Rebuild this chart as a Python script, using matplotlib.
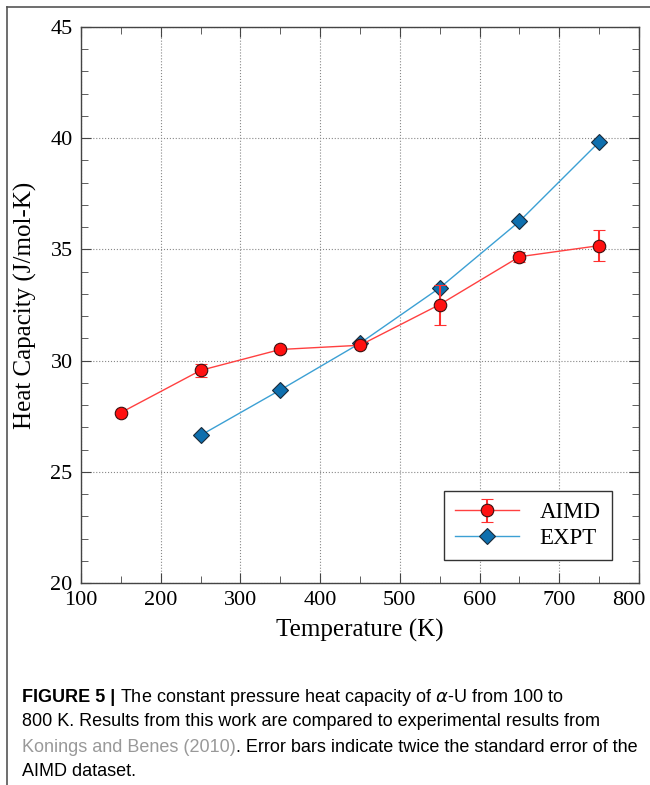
import matplotlib.pyplot as plt
from matplotlib.ticker import MultipleLocator
from matplotlib.lines import Line2D

# AIMD results (with 2x standard error)
aimd_T = [150, 250, 350, 450, 550, 650, 750]
aimd_cp = [27.66, 29.56, 30.50, 30.69, 32.52, 34.67, 35.17]
aimd_err = [0.05, 0.30, 0.05, 0.05, 0.90, 0.22, 0.70]

# experimental data (Konings and Benes 2010)
expt_T = [250, 350, 450, 550, 650, 750]
expt_cp = [26.64, 28.68, 30.78, 33.27, 36.26, 39.83]

x_ticks = [100, 200, 300, 400, 500, 600, 700, 800]

serif = "Liberation Serif"

fig = plt.figure(figsize=(6.5, 7.85), dpi=100)
ax = fig.add_axes([81 / 650, 1 - 583 / 785, 558 / 650, 556 / 785])

ax.plot(expt_T, expt_cp, color="#3ca0d4", lw=1.0, marker="D", ms=8,
        mfc="#0e6fae", mec="#1a2b3a", mew=0.8, label="EXPT", zorder=3)
ax.errorbar(aimd_T, aimd_cp, yerr=aimd_err, color="#ff4040", lw=1.0,
            marker="o", ms=9, mfc="#ff1010", mec="#3a1010", mew=0.8,
            ecolor="#ff3030", elinewidth=1.5, capsize=4, capthick=1.5,
            label="AIMD", zorder=4)

ax.set_xlim(100, 800)
ax.set_ylim(20, 45)
# last label drawn separately so it can sit a little to the left
ax.set_xticks(x_ticks, [str(v) for v in x_ticks[:-1]] + [""])
ax.xaxis.set_minor_locator(MultipleLocator(50))
ax.yaxis.set_major_locator(MultipleLocator(5))
ax.yaxis.set_minor_locator(MultipleLocator(1))
ax.tick_params(which="both", direction="in", top=True, right=True, color="#444444")
ax.tick_params(which="major", length=7, labelsize=16, pad=6)
ax.tick_params(which="minor", length=5)
for lab in ax.get_xticklabels() + ax.get_yticklabels():
    lab.set_fontfamily(serif)
ax.annotate(str(x_ticks[-1]), xy=(x_ticks[-1], 20), xycoords="data",
            xytext=(-7, -6), textcoords="offset points", ha="center", va="top",
            fontsize=16, family=serif)
ax.grid(True, which="major", ls=":", color="#888888", lw=0.8)
for s in ax.spines.values():
    s.set_color("#444444")
    s.set_linewidth(1.0)

ax.set_xlabel("Temperature (K)", fontsize=18, family=serif, labelpad=6)
ax.set_ylabel("Heat Capacity (J/mol-K)", fontsize=18, family=serif, labelpad=10)

hh, ll = ax.get_legend_handles_labels()
leg = ax.legend(hh[::-1], ll[::-1], loc="lower right", bbox_to_anchor=(0.952, 0.041),
                borderaxespad=0, prop={"family": serif, "size": 16.5}, fancybox=False,
                edgecolor="#333333", framealpha=1, handlelength=2.8,
                borderpad=0.5, labelspacing=0.2, handletextpad=0.9)
leg.get_frame().set_linewidth(1.0)

# outer frame
fig.add_artist(Line2D([7 / 650, 7 / 650], [0, 1 - 7 / 785], color="#555555", lw=1.2))
fig.add_artist(Line2D([7 / 650, 1], [1 - 7 / 785, 1 - 7 / 785], color="#555555", lw=1.2))

# caption, pieces chained left to right
cap = "Liberation Sans"
r = fig.canvas.get_renderer()


def chain(x, y, parts):
    for s, kw in parts:
        t = fig.text(x, y, s, fontsize=13, family=cap, va="center", **kw)
        x = t.get_window_extent(renderer=r).x1 / fig.bbox.width


chain(22 / 650, 1 - 697 / 785, [("FIGURE 5 | ", {"weight": "bold"}),
      (r"The constant pressure heat capacity of $\alpha$-U from 100 to", {})])
chain(22 / 650, 1 - 722 / 785,
      [("800 K. Results from this work are compared to experimental results from", {})])
chain(22 / 650, 1 - 747 / 785, [("Konings and Benes (2010)", {"color": "#999999"}),
      (". Error bars indicate twice the standard error of the", {})])
chain(22 / 650, 1 - 772 / 785, [("AIMD dataset.", {})])

fig.savefig("out.png", dpi=100)
